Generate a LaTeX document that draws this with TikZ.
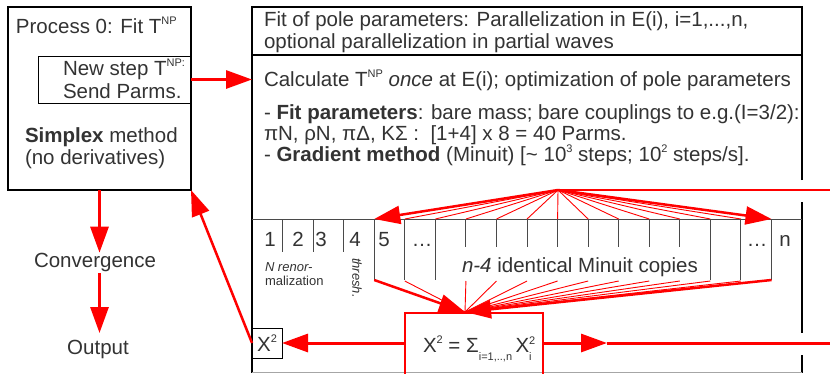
\documentclass[tikz,border=0pt]{standalone}
\usepackage{fontspec}
\setmainfont{Liberation Sans}
\usetikzlibrary{arrows.meta}
\definecolor{txt}{HTML}{333333}
\definecolor{rd}{HTML}{FF0000}
\definecolor{sepc}{HTML}{4A4A4A}
\newcommand\mysup[1]{\raisebox{8.5pt}{\fontsize{11}{11}\selectfont #1}}
\newcommand\mysub[1]{\raisebox{-8pt}{\fontsize{11}{11}\selectfont #1}}
\newcommand\mystack[2]{\raisebox{-8pt}{\fontsize{11}{11}\selectfont\shortstack[l]{#1\\[5pt]#2}}}
\begin{document}
\begin{tikzpicture}[x=1pt,y=-1pt,
  every node/.style={inner sep=0pt,outer sep=0pt,text=txt,font=\fontsize{20.5}{23}\selectfont},
  lab/.style={anchor=base west},
  sml/.style={font=\fontsize{13}{15}\selectfont},
  tipb/.style={-{Triangle[length=26pt,width=18pt]}},
  rline/.style={draw=rd,line width=3pt},
  rthin/.style={draw=rd,line width=0.9pt},
  cellsep/.style={draw=sepc,line width=1pt}]
\useasboundingbox (0,0) rectangle (830,373);
\fill[white] (0,0) rectangle (830,373);

% ---------- left box ----------
\node[draw=black,line width=2.5pt,minimum width=183pt,minimum height=183pt,anchor=north west] (lbox) at (8,7) {};
\node[draw=black,line width=0.9pt,minimum width=153pt,minimum height=47pt,anchor=north west] (nstep) at (38,56) {};
\node[lab] (p0) at (16,33) {Process 0: Fit T\mysup{NP}};
\node[lab] (ns1) at (63,75) {New step T\mysup{NP:}};
\node[lab] (ns2) at (63,98) {Send Parms.};
\node[lab] (sx1) at (25,142) {\textbf{Simplex} method};
\node[lab] (sx2) at (25,164) {(no derivatives)};
\node[anchor=base] (conv) at (95,267) {Convergence};
\node[anchor=base] (outp) at (98,354) {Output};
\coordinate (cv1) at (99.5,273);
\coordinate (cv2) at (99.5,333);
\draw[rline,tipb] (lbox.south) -- (lbox.south |- conv.north);
\draw[rline,tipb] (cv1) -- (cv2);

% ---------- right box frame ----------
\coordinate (rbTL) at (252,7);
\coordinate (rbTR) at (802,7);
\coordinate (rbBL) at (252,373);
\draw[black,line width=2pt] (802,180) -- (rbTR) -- (rbTL) -- (rbBL);
\draw[black,line width=2.5pt] (802,202) -- (802,333);
\draw[black,line width=2.5pt] (802,355) -- (802,373);
\draw[gray!70,line width=1pt] (252,372) -- (802,372);
\draw[black,line width=1.3pt] (252,55) -- (802,55);
\draw[sepc,line width=1pt] (252,219) -- (802,219);

% ---------- right box texts ----------
\node[lab] (t1) at (264,26) {Fit of pole parameters: Parallelization in E(i), i=1,...,n,};
\node[lab] (t2) at (264,48) {optional parallelization in partial waves};
\node[lab] (t3) at (264,86) {Calculate T\mysup{NP} \textit{once} at E(i); optimization of pole parameters};
\node[lab] (t4) at (264,119) {- \textbf{Fit parameters}: bare mass; bare couplings to e.g.(I=3/2):};
\node[lab] (t5) at (264,140) {πN, ρN, πΔ, KΣ :\ \ [1+4] x 8 = 40 Parms.};
\node[lab] (t6) at (264,161) {- \textbf{Gradient method} (Minuit) [\textasciitilde{} 10\mysup{3} steps; 10\mysup{2} steps/s].};

% arrow from process 0 to right box
\coordinate (rbL) at (252,79.5);
\draw[rline,tipb] (nstep.east) -- (rbL);

% ---------- cells ----------
\foreach \k/\e in {1/252,2/252,3/252,4/280,5/280,6/280,7/247,8/247,9/247,10/247,11/247,12/247,13/247,14/247,15/280,16/280,17/280}{
  \coordinate (s\k) at ({252+30.56*\k},219);
  \coordinate (b\k) at ({252+30.56*\k},\e);
  \coordinate (f\k) at ({252+30.56*\k},281);
  \draw[cellsep] (s\k) -- (b\k);
}
\node[anchor=base] (c1) at (270,246) {1};
\node[anchor=base] (c2) at (298,246) {2};
\node[anchor=base] (c3) at (321,246) {3};
\node[anchor=base] (c4) at (355,246) {4};
\node[anchor=base] (c5) at (384,246) {5};
\node[anchor=base] (cd1) at (422,246) {…};
\node[anchor=base] (cd2) at (757,246) {…};
\node[anchor=base] (cn) at (785,246) {n};
\node[lab,sml] (nr1) at (265,271) {\itshape N renor-};
\node[lab,sml] (nr2) at (265,285) {malization};
\node[sml,rotate=-90,anchor=west] (thr) at (357,258) {\itshape thresh.};
\node[lab] (ident) at (462,272) {\textit{n-4} identical Minuit copies};

% ---------- fan out ----------
\coordinate (fo) at (558,190);
\coordinate (eR1) at (830,190);
\draw[rd,line width=2pt] (fo) -- (eR1);
\foreach \k in {5,...,16} \draw[rthin] (fo) -- (s\k);
\draw[rline,line width=2.5pt,tipb] (fo) -- (s4);
\draw[rline,line width=2.5pt,tipb] (fo) -- (s17);

% ---------- chi2 box ----------
\node[draw=rd,line width=2.7pt,minimum width=138pt,minimum height=75pt,anchor=north west] (fbox) at (405,313) {};
\node[lab] (form) at (423,352) {Χ\mysup{2} = Σ\mysub{i=1,..,n}\,Χ\mystack{2}{i}};
\node[draw=black,line width=0.8pt,minimum width=30pt,minimum height=30pt,anchor=north west] (xbox) at (252,328) {Χ\mysup{2}};

% ---------- fan in ----------
\coordinate (fi) at (465,312);
\foreach \k in {5,7,8,9,10,11,12,13,14,15,16} \draw[rthin] (f\k) -- (fi);
\draw[rline,line width=2.5pt,tipb] (b4) -- (fi);
\draw[rline,line width=2.5pt,tipb] (b17) -- (fi);

% ---------- chi2 connections ----------
\draw[rline,tipb] (xbox.east -| fbox.west) -- (xbox.east);
\coordinate (m1) at (607,343);
\coordinate (eR2) at (830,343);
\draw[rline,tipb] (xbox.east -| fbox.east) -- (m1);
\draw[rline] (m1) -- (eR2);
\draw[rline,line width=2.5pt,tipb] (xbox.west) -- (lbox.south east);
\end{tikzpicture}
\end{document}
